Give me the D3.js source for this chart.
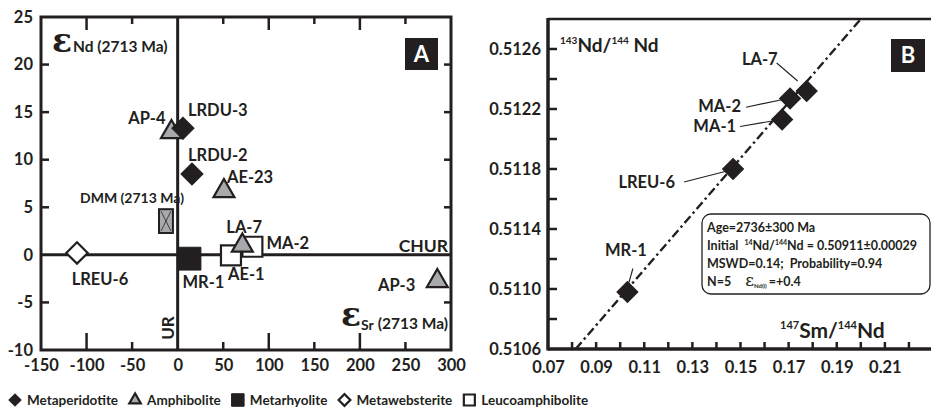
<!DOCTYPE html>
<html>
<head>
<meta charset="utf-8">
<script src="https://cdn.jsdelivr.net/npm/d3@7"></script>
<style>
  body { margin: 0; background: #fff; }
  svg text { font-family: Lato, 'Open Sans', sans-serif; font-weight: 700; fill: #231f20; }
</style>
</head>
<body>
<div id="chart"></div>
<script>
// ---- panel A: eps Sr vs eps Nd (2713 Ma)
const sampleA = ['AP-4', 'LRDU-3', 'LRDU-2', 'AE-23', 'LREU-6', 'MR-1', 'AE-1', 'MA-2', 'LA-7', 'AP-3']
const epsSr = [-6.8, 5.8, 15.7, 50.8, -110.5, 13, 58.5, 82, 71, 285]
const epsNd = [12.9, 13.3, 8.5, 6.7, 0.2, -0.4, -0.05, 0.85, 0.97, -2.75]
const rockA = ['amph', 'meta', 'meta', 'amph', 'web', 'rhy', 'leuco', 'leuco', 'amph', 'amph']
const dmmSr = [-20.5, -5.2]
const dmmNd = [2.3, 4.8]
const xTicksA = [-150, -100, -50, 0, 50, 100, 150, 200, 250, 300]
const yTicksA = [-10, -5, 0, 5, 10, 15, 20, 25]

// ---- panel B: Sm-Nd isochron
const sampleB = ['MR-1', 'LREU-6', 'MA-1', 'MA-2', 'LA-7']
const smNd = [0.1030, 0.1469, 0.1673, 0.1706, 0.1775]
const ndNd = [0.51098, 0.51180, 0.51213, 0.51227, 0.51232]
const isoX = [0.0815, 0.2000]
const isoY = [0.5106, 0.5128]
const xTicksB = [0.07, 0.09, 0.11, 0.13, 0.15, 0.17, 0.19, 0.21]
const yTicksB = [0.5106, 0.5110, 0.5114, 0.5118, 0.5122, 0.5126]

const legendKeys = ['meta', 'amph', 'rhy', 'web', 'leuco']
const legendNames = ['Metaperidotite', 'Amphibolite', 'Metarhyolite', 'Metawebsterite', 'Leucoamphibolite']

const W = 931, H = 412
const INK = '#231f20'

const svg = d3.select('#chart').append('svg').attr('width', W).attr('height', H)

// marker styles per rock type
const markStyle = {
  meta: { type: d3.symbolSquare, size: 245, rot: 45, fill: INK },
  amph: { type: d3.symbolTriangle, size: 190, rot: 0, fill: '#a7a9ac' },
  rhy: { type: d3.symbolSquare, size: 520, rot: 0, fill: INK },
  web: { type: d3.symbolSquare, size: 230, rot: 45, fill: '#fff' },
  leuco: { type: d3.symbolSquare, size: 400, rot: 0, fill: '#fff' },
}

function drawMark(g, key, x, y, scale = 1) {
  const s = markStyle[key]
  g.append('path')
    .attr('d', d3.symbol().type(s.type).size(s.size * scale * scale)())
    .attr('transform', `translate(${x},${y}) rotate(${s.rot})`)
    .attr('fill', s.fill)
    .attr('stroke', INK)
    .attr('stroke-width', key === 'meta' || key === 'rhy' ? 1 : 2.2)
    .attr('stroke-linejoin', 'miter')
}

const plain = d => String(d)   // hyphen minus like the original, not U+2212

// ================= Panel A =================
const xA = d3.scaleLinear().domain([-150, 300]).range([41, 451])
const yA = d3.scaleLinear().domain([-10, 25]).range([350, 17])
const gA = svg.append('g')

gA.append('rect')
  .attr('x', xA(-150)).attr('y', yA(25))
  .attr('width', xA(300) - xA(-150)).attr('height', yA(-10) - yA(25))
  .attr('fill', 'none').attr('stroke', INK).attr('stroke-width', 3)

// tick labels via axes (tick marks drawn separately, inward)
gA.append('g')
  .attr('transform', `translate(0,${yA(-10)})`)
  .call(d3.axisBottom(xA).tickValues(xTicksA).tickSize(0).tickPadding(9).tickFormat(plain))
  .call(g => g.select('.domain').remove())
  .selectAll('text').attr('font-size', 16.5).attr('font-family', null)
gA.append('g')
  .attr('transform', `translate(${xA(-150)},0)`)
  .call(d3.axisLeft(yA).tickValues(yTicksA).tickSize(0).tickPadding(8).tickFormat(plain))
  .call(g => g.select('.domain').remove())
  .selectAll('text').attr('font-size', 16.5).attr('font-family', null)

const innerX = xTicksA.slice(1, -1).filter(d => d !== 0)
const innerY = yTicksA.slice(1, -1).filter(d => d !== 0)
const isMajor = d => d % 100 === 0
gA.append('g').selectAll('line').data(innerX).join('line')
  .attr('x1', d => xA(d)).attr('x2', d => xA(d))
  .attr('y1', yA(-10)).attr('y2', d => yA(-10) - (isMajor(d) ? 17 : 8))
  .attr('stroke', INK).attr('stroke-width', 2.5)
gA.append('g').selectAll('line').data(innerX).join('line')
  .attr('x1', d => xA(d)).attr('x2', d => xA(d))
  .attr('y1', yA(25)).attr('y2', d => yA(25) + (isMajor(d) ? 13 : 7))
  .attr('stroke', INK).attr('stroke-width', 2.5)
gA.append('g').selectAll('line').data(innerY).join('line')
  .attr('x1', xA(-150)).attr('x2', xA(-150) + 8)
  .attr('y1', d => yA(d)).attr('y2', d => yA(d))
  .attr('stroke', INK).attr('stroke-width', 2.5)
gA.append('g').selectAll('line').data(innerY).join('line')
  .attr('x1', xA(300)).attr('x2', xA(300) - 7)
  .attr('y1', d => yA(d)).attr('y2', d => yA(d))
  .attr('stroke', INK).attr('stroke-width', 2.5)

// UR and CHUR reference lines
gA.append('line')
  .attr('x1', xA(0)).attr('x2', xA(0)).attr('y1', yA(25)).attr('y2', yA(-10))
  .attr('stroke', INK).attr('stroke-width', 3)
gA.append('line')
  .attr('x1', xA(-150)).attr('x2', xA(300)).attr('y1', yA(0)).attr('y2', yA(0))
  .attr('stroke', INK).attr('stroke-width', 3)

// DMM box
const dmm = gA.append('g')
dmm.append('rect')
  .attr('x', xA(dmmSr[0])).attr('y', yA(dmmNd[1]))
  .attr('width', xA(dmmSr[1]) - xA(dmmSr[0])).attr('height', yA(dmmNd[0]) - yA(dmmNd[1]))
  .attr('fill', '#a7a9ac').attr('stroke', INK).attr('stroke-width', 2)
dmm.append('path')
  .attr('d', `M${xA(dmmSr[0]) + 2},${yA(dmmNd[1]) + 2}L${xA(dmmSr[1]) - 2},${yA(dmmNd[0]) - 2}` +
    `M${xA(dmmSr[1]) - 2},${yA(dmmNd[1]) + 2}L${xA(dmmSr[0]) + 2},${yA(dmmNd[0]) - 2}`)
  .attr('stroke', INK).attr('stroke-width', 0.8)

// sample markers A
const dataA = sampleA.map((name, i) => ({ name, sr: epsSr[i], nd: epsNd[i], rock: rockA[i] }))
const gMarksA = gA.append('g')
dataA.forEach(d => drawMark(gMarksA, d.rock, xA(d.sr), yA(d.nd)))

// sample labels A: pixel offset from marker and anchor
const labelOffA = {
  'AP-4': [-6, -14, 'end'], 'LRDU-3': [5, -18, 'start'], 'LRDU-2': [-4, -19, 'start'],
  'AE-23': [3, -14, 'start'], 'LREU-6': [23, 26, 'middle'], 'MR-1': [-7, 23, 'start'],
  'AE-1': [-3, 19, 'start'], 'MA-2': [14, -4, 'start'], 'LA-7': [-16, -19, 'start'],
  'AP-3': [-22, 4, 'end'],
}
gA.append('g').selectAll('text').data(dataA).join('text')
  .attr('x', d => xA(d.sr) + labelOffA[d.name][0])
  .attr('y', d => yA(d.nd) + labelOffA[d.name][1])
  .attr('dy', '0.36em')
  .attr('text-anchor', d => labelOffA[d.name][2])
  .attr('font-size', 16.5)
  .text(d => d.name)

gA.append('text').attr('x', 80).attr('y', 198).attr('dy', '0.36em')
  .attr('font-size', 14).text('DMM (2713 Ma)')
gA.append('text').attr('x', 448).attr('y', 246).attr('dy', '0.36em')
  .attr('text-anchor', 'end').attr('font-size', 17.5).text('CHUR')
gA.append('text').attr('transform', `translate(${xA(0) - 4},328) rotate(-90)`)
  .attr('text-anchor', 'middle').attr('font-size', 17).text('UR')

// axis titles
const tNd = gA.append('text').attr('x', 52).attr('y', 52)
tNd.append('tspan').attr('font-family', 'DejaVu Serif').attr('font-weight', 700)
  .attr('font-size', 33).text('ε')
tNd.append('tspan').attr('font-size', 15.5).attr('dx', 1).text('Nd (2713 Ma)')
const tSr = gA.append('text').attr('x', 448).attr('y', 326).attr('text-anchor', 'end')
tSr.append('tspan').attr('font-family', 'DejaVu Serif').attr('font-weight', 700)
  .attr('font-size', 33).text('ε')
tSr.append('tspan').attr('font-size', 14).attr('dy', 4).text('Sr')
tSr.append('tspan').attr('font-size', 15.5).attr('dx', 4).attr('dy', -1).text('(2713 Ma)')

gA.append('rect').attr('x', 405).attr('y', 38).attr('width', 33).attr('height', 32).attr('fill', INK)
gA.append('text').attr('x', 421.5).attr('y', 54).attr('dy', '0.36em').attr('text-anchor', 'middle')
  .attr('font-weight', 400).attr('font-size', 22).style('fill', '#fff').text('A')

// ================= Panel B =================
const xB = d3.scaleLinear().domain([0.07, 0.23]).range([548, 933])
const yB = d3.scaleLinear().domain([0.5106, 0.5128]).range([349, 19])
const gB = svg.append('g')

gB.append('line').attr('x1', xB(0.07)).attr('x2', W).attr('y1', yB(0.5128)).attr('y2', yB(0.5128))
  .attr('stroke', INK).attr('stroke-width', 2.5)

gB.append('g')
  .attr('transform', `translate(0,${yB(0.5106)})`)
  .call(d3.axisBottom(xB).tickValues(xTicksB).tickSize(0).tickPadding(12).tickFormat(d3.format('.2f')))
  .call(g => g.select('.domain').remove())
  .selectAll('text').attr('font-size', 16.5).attr('font-family', null)
gB.append('g')
  .attr('transform', `translate(${xB(0.07)},0)`)
  .call(d3.axisLeft(yB).tickValues(yTicksB).tickSize(0).tickPadding(7).tickFormat(d3.format('.4f')))
  .call(g => g.select('.domain').remove())
  .selectAll('text').attr('font-size', 16.5).attr('font-family', null)

// inward ticks every 0.01 / 0.0002
const minorX = d3.range(8, 23).map(d => d / 100)
const minorY = d3.range(1, 11).map(d => 0.5106 + d * 0.0002)
gB.append('g').selectAll('line').data(minorX).join('line')
  .attr('x1', d => xB(d)).attr('x2', d => xB(d))
  .attr('y1', yB(0.5106)).attr('y2', yB(0.5106) - 7)
  .attr('stroke', INK).attr('stroke-width', 2.5)
gB.append('g').selectAll('line').data(minorY).join('line')
  .attr('x1', xB(0.07)).attr('x2', xB(0.07) + 9)
  .attr('y1', d => yB(d)).attr('y2', d => yB(d))
  .attr('stroke', INK).attr('stroke-width', 2.5)

gB.append('line').attr('x1', xB(0.07)).attr('x2', W).attr('y1', yB(0.5106)).attr('y2', yB(0.5106))
  .attr('stroke', INK).attr('stroke-width', 3.5)
gB.append('line').attr('x1', xB(0.07)).attr('x2', xB(0.07)).attr('y1', yB(0.5128) - 1).attr('y2', yB(0.5106) + 1.5)
  .attr('stroke', INK).attr('stroke-width', 3.5)

// isochron
gB.append('path')
  .attr('d', d3.line().x(d => xB(d[0])).y(d => yB(d[1]))(isoX.map((x, i) => [x, isoY[i]])))
  .attr('stroke', INK).attr('stroke-width', 2.4).attr('fill', 'none')
  .attr('stroke-dasharray', '9,3.5,2.5,3.5')

const dataB = sampleB.map((name, i) => ({ name, x: smNd[i], y: ndNd[i] }))
const gMarksB = gB.append('g')
dataB.forEach(d => drawMark(gMarksB, 'meta', xB(d.x), yB(d.y), 0.95))

// leader lines and labels: [text dx, text dy, anchor, leader x1, y1, x2, y2]
const labelOffB = {
  'MR-1': [-1.5, -41.5, 'middle', 5.5, -23.5, 1.5, -9.5],
  'LREU-6': [-58, 13, 'end', -49, 13, -6, 2],
  'MA-1': [-46, 7, 'end', -42, 7, -7, 1],
  'MA-2': [-49, 8, 'end', -44, 8.7, -6, 0.7],
  'LA-7': [-29, -32, 'end', -30, -28, -9, -10],
}
gB.append('g').selectAll('line').data(dataB).join('line')
  .attr('x1', d => xB(d.x) + labelOffB[d.name][3]).attr('y1', d => yB(d.y) + labelOffB[d.name][4])
  .attr('x2', d => xB(d.x) + labelOffB[d.name][5]).attr('y2', d => yB(d.y) + labelOffB[d.name][6])
  .attr('stroke', INK).attr('stroke-width', 1.1)
gB.append('g').selectAll('text').data(dataB).join('text')
  .attr('x', d => xB(d.x) + labelOffB[d.name][0])
  .attr('y', d => yB(d.y) + labelOffB[d.name][1])
  .attr('dy', '0.36em')
  .attr('text-anchor', d => labelOffB[d.name][2])
  .attr('font-size', 16.5)
  .text(d => d.name)

// axis titles B
const tY = gB.append('text').attr('x', 560).attr('y', 52)
tY.append('tspan').attr('font-size', 10).attr('dy', -8).text('143')
tY.append('tspan').attr('font-size', 19).attr('dy', 8).text('Nd/')
tY.append('tspan').attr('font-size', 10).attr('dy', -8).text('144')
tY.append('tspan').attr('font-size', 19).attr('dy', 8).text(' Nd')
const tX = gB.append('text').attr('x', 780).attr('y', 338)
tX.append('tspan').attr('font-size', 11).attr('dy', -9).text('147')
tX.append('tspan').attr('font-size', 21).attr('dy', 9).text('Sm/')
tX.append('tspan').attr('font-size', 11).attr('dy', -9).text('144')
tX.append('tspan').attr('font-size', 21).attr('dy', 9).text('Nd')

gB.append('rect').attr('x', 891).attr('y', 39).attr('width', 34).attr('height', 33).attr('fill', INK)
gB.append('text').attr('x', 908).attr('y', 55.5).attr('dy', '0.36em').attr('text-anchor', 'middle')
  .attr('font-weight', 400).attr('font-size', 22).style('fill', '#fff').text('B')

// result box
const box = gB.append('g')
box.append('rect').attr('x', 702).attr('y', 214).attr('width', 228).attr('height', 80).attr('rx', 9)
  .attr('fill', '#fff').attr('stroke', INK).attr('stroke-width', 1.3)
const boxLines = box.append('g')
boxLines.append('text').attr('x', 707).attr('y', 232).attr('font-size', 12.5).text('Age=2736±300 Ma')
const l2 = boxLines.append('text').attr('x', 707).attr('y', 250).attr('font-size', 12.5)
l2.append('tspan').text('Initial ')
l2.append('tspan').attr('font-size', 7).attr('dy', -5).attr('dx', 3).text('14')
l2.append('tspan').attr('dy', 5).text('Nd/')
l2.append('tspan').attr('font-size', 7).attr('dy', -5).text('144')
l2.append('tspan').attr('dy', 5).text('Nd = 0.50911±0.00029')
boxLines.append('text').attr('x', 707).attr('y', 268).attr('font-size', 12.5).attr('xml:space', 'preserve')
  .text('MSWD=0.14;  Probability=0.94')
const l4 = boxLines.append('text').attr('x', 707).attr('y', 286).attr('font-size', 12.5)
l4.append('tspan').text('N=5')
l4.append('tspan').attr('dx', 14).attr('font-family', 'DejaVu Serif').attr('font-weight', 400)
  .attr('font-size', 17).text('ε')
l4.append('tspan').attr('font-size', 6).attr('dy', 2).text('Nd(i)')
l4.append('tspan').attr('dy', -2).attr('dx', 2).text('=+0.4')

// ================= Legend =================
const legend = svg.append('g')
let lx = 10
legendKeys.forEach((k, i) => {
  drawMark(legend, k, lx + 5, 400, 0.55)
  const t = legend.append('text').attr('x', lx + 17).attr('y', 400).attr('dy', '0.36em')
    .attr('font-size', 13.5).text(legendNames[i])
  lx += 17 + t.node().getComputedTextLength() + 12
})
</script>
</body>
</html>
